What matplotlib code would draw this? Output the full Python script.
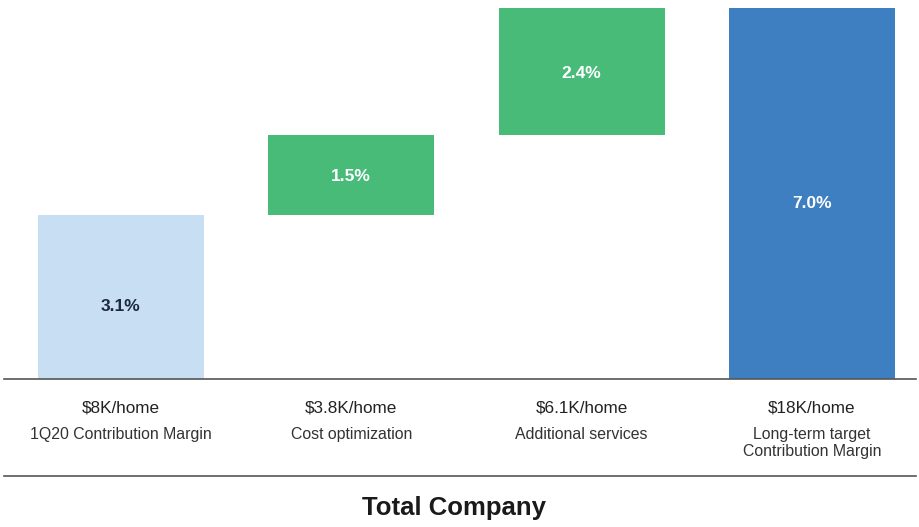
import numpy as np
from matplotlib import pyplot as plt
from matplotlib.lines import Line2D

# margin bridge, in % of revenue
steps = ['1Q20 Contribution Margin', 'Cost optimization',
         'Additional services', 'Long-term target\nContribution Margin']
per_home = ['$8K/home', '$3.8K/home', '$6.1K/home', '$18K/home']
values = [3.1, 1.5, 2.4, 7.0]
is_total = [False, False, False, True]
colors = ['#c8def3', '#48bb79', '#48bb79', '#3e7fc2']
label_colors = ['#1c2740', 'white', 'white', 'white']

plt.rcParams['font.family'] = ['Liberation Sans', 'DejaVu Sans']

# bottoms: running total for increments, zero for totals
bottoms = []
running = 0.0
for v, tot in zip(values, is_total):
    if tot:
        bottoms.append(0.0)
    else:
        bottoms.append(running)
        running += v

W, H = 920, 527
fig = plt.figure(figsize=(W / 100, H / 100), dpi=100)
ax = fig.add_axes([0, 1 - 379 / H, 1, 379 / H])

x = np.arange(len(values))
ax.bar(x, values, bottom=bottoms, width=0.72, color=colors, linewidth=0)
ax.set_xlim(-121 / 230.3, (W - 121) / 230.3)
ax.set_ylim(0, 379 / 53.0)
ax.axis('off')

# taller bars get their label nudged a little below the middle
for xi, v, b, c in zip(x, values, bottoms, label_colors):
    nudge = 0.18 if v > 3 else 0.03
    ax.text(xi, b + v / 2 - nudge, f'{v:.1f}%', ha='center', va='center',
            fontsize=12.5, fontweight='bold', color=c)

# category labels below the baseline
for xi, ph, name in zip(x, per_home, steps):
    xf = (121 + 230.3 * xi) / W
    fig.text(xf, 1 - 408 / H, ph, ha='center', va='center',
             fontsize=12.3, color='#222222')
    fig.text(xf, 1 - 427 / H, name, ha='center', va='top',
             fontsize=11.4, color='#333333', linespacing=1.2)

# baseline and bottom rule
for yp in (379, 476):
    fig.add_artist(Line2D([4 / W, 916 / W], [1 - yp / H, 1 - yp / H],
                          color='#555555', linewidth=1.2))

fig.text(454 / W, 1 - 508 / H, 'Total Company', ha='center', va='center',
         fontsize=18.5, fontweight='bold', color='#1a1a1a')

fig.savefig('out.png', dpi=100)
